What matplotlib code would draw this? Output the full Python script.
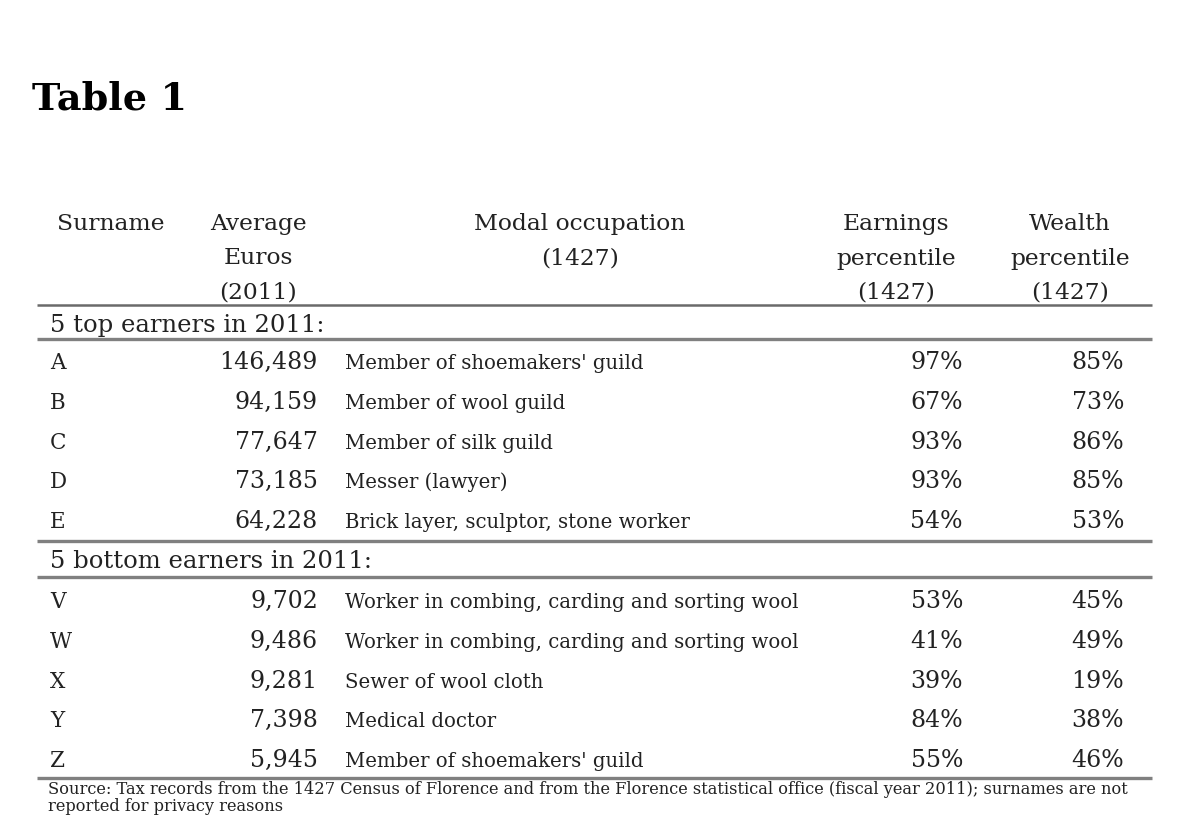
import matplotlib.pyplot as plt

# table content
header_cols = ["Surname", "Average\nEuros\n(2011)", "Modal occupation\n(1427)",
               "Earnings\npercentile\n(1427)", "Wealth\npercentile\n(1427)"]
groups = ["5 top earners in 2011:", "5 bottom earners in 2011:"]

top_names = ["A", "B", "C", "D", "E"]
top_euros = [146489, 94159, 77647, 73185, 64228]
top_jobs = ["Member of shoemakers' guild", "Member of wool guild", "Member of silk guild",
            "Messer (lawyer)", "Brick layer, sculptor, stone worker"]
top_earn = [97, 67, 93, 93, 54]
top_wealth = [85, 73, 86, 85, 53]

bottom_names = ["V", "W", "X", "Y", "Z"]
bottom_euros = [9702, 9486, 9281, 7398, 5945]
bottom_jobs = ["Worker in combing, carding and sorting wool",
               "Worker in combing, carding and sorting wool",
               "Sewer of wool cloth", "Medical doctor", "Member of shoemakers' guild"]
bottom_earn = [53, 41, 39, 84, 55]
bottom_wealth = [45, 49, 19, 38, 46]

source_lines = ["Source: Tax records from the 1427 Census of Florence and from the Florence "
                "statistical office (fiscal year 2011); surnames are not",
                "reported for privacy reasons"]

FONT = "DejaVu Serif"
INK = "#222222"
RULE = "#808080"

fig = plt.figure(figsize=(12, 8.16), dpi=100)
ax = fig.add_axes([0, 0, 1, 1])
ax.set_xlim(0, 1200)
ax.set_ylim(816, 0)
ax.axis("off")

ax.text(32, 110, "Table 1", fontsize=27.5, fontweight="bold", family=FONT, color="black",
        va="baseline", ha="left")

# header
hs = 16.8
hdr_top = 230
line_h = 34.5
ax.text(57, hdr_top, header_cols[0], fontsize=hs, family=FONT, color=INK, va="baseline", ha="left")
for txt, xc in zip(header_cols[1:], [258, 580, 896, 1070]):
    for k, part in enumerate(txt.split("\n")):
        ax.text(xc, hdr_top + k * line_h, part, fontsize=hs, family=FONT, color=INK,
                va="baseline", ha="center")

x0, x1 = 37, 1152
rules = [305, 339, 541, 577, 778]
for j, y in enumerate(rules):
    ax.plot([x0, x1], [y, y], color="#6a6a6a" if j == 0 else RULE,
            lw=1.8 if j == 0 else 2.4, solid_capstyle="butt")


def block(names, euros, jobs, earn, wealth, group, y_group, y_first):
    ax.text(50, y_group, group, fontsize=17.5, family=FONT, color=INK, va="baseline", ha="left")
    for i in range(len(names)):
        y = y_first + i * 39.8
        ax.text(50, y, names[i], fontsize=15.5, family=FONT, color=INK, va="baseline")
        ax.text(318, y, f"{euros[i]:,}", fontsize=17, family=FONT, color=INK,
                va="baseline", ha="right")
        ax.text(345, y, jobs[i], fontsize=14.2, family=FONT, color=INK, va="baseline")
        ax.text(963, y, f"{earn[i]}%", fontsize=17, family=FONT, color=INK,
                va="baseline", ha="right")
        ax.text(1124, y, f"{wealth[i]}%", fontsize=17, family=FONT, color=INK,
                va="baseline", ha="right")


block(top_names, top_euros, top_jobs, top_earn, top_wealth, groups[0], 332, 369)
block(bottom_names, bottom_euros, bottom_jobs, bottom_earn, bottom_wealth, groups[1], 568, 608)

for k, line in enumerate(source_lines):
    ax.text(48, 794 + k * 17, line, fontsize=11.7, family=FONT, color=INK,
            va="baseline", ha="left")

fig.savefig("out.png", dpi=100)
